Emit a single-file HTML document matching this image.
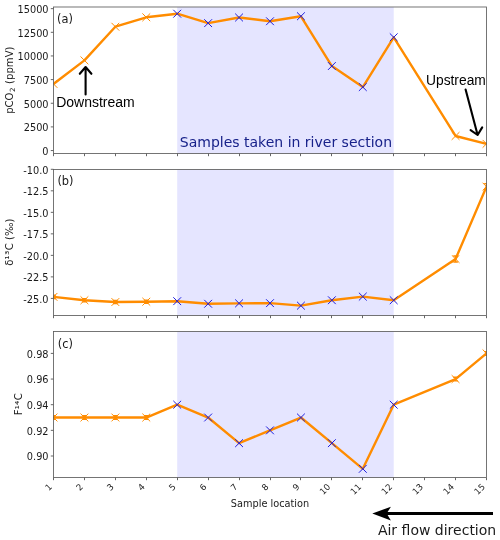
<!DOCTYPE html>
<html><head><meta charset="utf-8"><title>Figure</title>
<style>html,body{margin:0;padding:0;background:#fff}svg{display:block}</style></head>
<body>
<svg width="500" height="540" viewBox="0 0 500 540" font-family="'DejaVu Sans', 'Liberation Sans', sans-serif" font-size="9.75" fill="#1a1a1a">
<rect width="500" height="540" fill="#fff"/>
<defs><clipPath id="c0"><rect x="53.5" y="7.0" width="433.5" height="146.5"/></clipPath><clipPath id="c1"><rect x="53.5" y="169.5" width="433.5" height="146.0"/></clipPath><clipPath id="c2"><rect x="53.5" y="331.5" width="433.5" height="146.0"/></clipPath></defs>
<rect x="177.21" y="7.0" width="216.50" height="146.5" fill="#e5e5ff"/>
<g clip-path="url(#c0)"><polyline points="53.50,83.94 84.43,60.38 115.36,26.72 146.29,17.30 177.21,13.71 208.14,23.14 239.07,17.48 270.00,21.25 300.93,16.26 331.86,66.03 362.79,87.05 393.71,37.28 455.57,135.98 486.50,143.80" fill="none" stroke="#ff8c00" stroke-width="2.4" stroke-linejoin="round"/><path d="M49.60,80.04L57.40,87.84M49.60,87.84L57.40,80.04" stroke="#ff8c00" stroke-width="1" fill="none"/><path d="M80.53,56.48L88.33,64.28M80.53,64.28L88.33,56.48" stroke="#ff8c00" stroke-width="1" fill="none"/><path d="M111.46,22.82L119.26,30.62M111.46,30.62L119.26,22.82" stroke="#ff8c00" stroke-width="1" fill="none"/><path d="M142.39,13.40L150.19,21.20M142.39,21.20L150.19,13.40" stroke="#ff8c00" stroke-width="1" fill="none"/><path d="M173.31,9.81L181.11,17.61M173.31,17.61L181.11,9.81" stroke="#1c1ce0" stroke-width="1" fill="none"/><path d="M204.24,19.24L212.04,27.04M204.24,27.04L212.04,19.24" stroke="#1c1ce0" stroke-width="1" fill="none"/><path d="M235.17,13.58L242.97,21.38M235.17,21.38L242.97,13.58" stroke="#1c1ce0" stroke-width="1" fill="none"/><path d="M266.10,17.35L273.90,25.15M266.10,25.15L273.90,17.35" stroke="#1c1ce0" stroke-width="1" fill="none"/><path d="M297.03,12.36L304.83,20.16M297.03,20.16L304.83,12.36" stroke="#1c1ce0" stroke-width="1" fill="none"/><path d="M327.96,62.13L335.76,69.93M327.96,69.93L335.76,62.13" stroke="#1c1ce0" stroke-width="1" fill="none"/><path d="M358.89,83.15L366.69,90.95M358.89,90.95L366.69,83.15" stroke="#1c1ce0" stroke-width="1" fill="none"/><path d="M389.81,33.38L397.61,41.18M389.81,41.18L397.61,33.38" stroke="#1c1ce0" stroke-width="1" fill="none"/><path d="M451.67,132.08L459.47,139.88M451.67,139.88L459.47,132.08" stroke="#ff8c00" stroke-width="1" fill="none"/><path d="M482.60,139.90L490.40,147.70M482.60,147.70L490.40,139.90" stroke="#ff8c00" stroke-width="1" fill="none"/></g>
<path d="M53.50,153.5v2.7M84.50,153.5v2.7M115.50,153.5v2.7M146.50,153.5v2.7M177.50,153.5v2.7M208.50,153.5v2.7M239.50,153.5v2.7M270.50,153.5v2.7M300.50,153.5v2.7M331.50,153.5v2.7M362.50,153.5v2.7M393.50,153.5v2.7M424.50,153.5v2.7M455.50,153.5v2.7M486.50,153.5v2.7M53.5,150.55h-2.7M53.5,126.90h-2.7M53.5,103.25h-2.7M53.5,79.60h-2.7M53.5,55.95h-2.7M53.5,32.30h-2.7M53.5,8.65h-2.7" stroke="#555555" stroke-width="0.9" fill="none"/>
<rect x="53.5" y="7.0" width="433.0" height="146.5" fill="none" stroke="#5c5c5c" stroke-width="0.85"/>
<text x="48.55" y="154.95" text-anchor="end">0</text>
<text x="48.55" y="131.30" text-anchor="end">2500</text>
<text x="48.55" y="107.65" text-anchor="end">5000</text>
<text x="48.55" y="84.00" text-anchor="end">7500</text>
<text x="48.55" y="60.35" text-anchor="end">10000</text>
<text x="48.55" y="36.70" text-anchor="end">12500</text>
<text x="48.55" y="13.05" text-anchor="end">15000</text>
<rect x="177.21" y="169.5" width="216.50" height="146.0" fill="#e5e5ff"/>
<g clip-path="url(#c1)"><polyline points="53.50,296.87 84.43,300.23 115.36,302.04 146.29,301.70 177.21,301.18 208.14,303.76 239.07,303.33 270.00,303.16 300.93,305.66 331.86,300.23 362.79,296.61 393.71,300.23 455.57,258.98 486.50,186.63" fill="none" stroke="#ff8c00" stroke-width="2.4" stroke-linejoin="round"/><path d="M53.50,295.27V298.47M51.20,295.27h4.6M51.20,298.47h4.6" stroke="#ff8c00" stroke-width="1.4" fill="none"/><path d="M49.60,292.97L57.40,300.77M49.60,300.77L57.40,292.97" stroke="#ff8c00" stroke-width="1" fill="none"/><path d="M84.43,298.63V301.83M82.13,298.63h4.6M82.13,301.83h4.6" stroke="#ff8c00" stroke-width="1.4" fill="none"/><path d="M80.53,296.33L88.33,304.13M80.53,304.13L88.33,296.33" stroke="#ff8c00" stroke-width="1" fill="none"/><path d="M115.36,300.44V303.64M113.06,300.44h4.6M113.06,303.64h4.6" stroke="#ff8c00" stroke-width="1.4" fill="none"/><path d="M111.46,298.14L119.26,305.94M111.46,305.94L119.26,298.14" stroke="#ff8c00" stroke-width="1" fill="none"/><path d="M146.29,300.10V303.30M143.99,300.10h4.6M143.99,303.30h4.6" stroke="#ff8c00" stroke-width="1.4" fill="none"/><path d="M142.39,297.80L150.19,305.60M142.39,305.60L150.19,297.80" stroke="#ff8c00" stroke-width="1" fill="none"/><path d="M173.31,297.28L181.11,305.08M173.31,305.08L181.11,297.28" stroke="#1c1ce0" stroke-width="1" fill="none"/><path d="M204.24,299.86L212.04,307.66M204.24,307.66L212.04,299.86" stroke="#1c1ce0" stroke-width="1" fill="none"/><path d="M235.17,299.43L242.97,307.23M235.17,307.23L242.97,299.43" stroke="#1c1ce0" stroke-width="1" fill="none"/><path d="M266.10,299.26L273.90,307.06M266.10,307.06L273.90,299.26" stroke="#1c1ce0" stroke-width="1" fill="none"/><path d="M297.03,301.76L304.83,309.56M297.03,309.56L304.83,301.76" stroke="#1c1ce0" stroke-width="1" fill="none"/><path d="M327.96,296.33L335.76,304.13M327.96,304.13L335.76,296.33" stroke="#1c1ce0" stroke-width="1" fill="none"/><path d="M358.89,292.71L366.69,300.51M358.89,300.51L366.69,292.71" stroke="#1c1ce0" stroke-width="1" fill="none"/><path d="M389.81,296.33L397.61,304.13M389.81,304.13L397.61,296.33" stroke="#1c1ce0" stroke-width="1" fill="none"/><path d="M455.57,255.98V261.98M453.27,255.98h4.6M453.27,261.98h4.6" stroke="#ff8c00" stroke-width="1.4" fill="none"/><path d="M451.67,255.08L459.47,262.88M451.67,262.88L459.47,255.08" stroke="#ff8c00" stroke-width="1" fill="none"/><path d="M486.50,183.63V189.63M484.20,183.63h4.6M484.20,189.63h4.6" stroke="#ff8c00" stroke-width="1.4" fill="none"/><path d="M482.60,182.73L490.40,190.53M482.60,190.53L490.40,182.73" stroke="#ff8c00" stroke-width="1" fill="none"/></g>
<path d="M53.50,315.5v2.7M84.50,315.5v2.7M115.50,315.5v2.7M146.50,315.5v2.7M177.50,315.5v2.7M208.50,315.5v2.7M239.50,315.5v2.7M270.50,315.5v2.7M300.50,315.5v2.7M331.50,315.5v2.7M362.50,315.5v2.7M393.50,315.5v2.7M424.50,315.5v2.7M455.50,315.5v2.7M486.50,315.5v2.7M53.5,169.30h-2.7M53.5,190.82h-2.7M53.5,212.34h-2.7M53.5,233.85h-2.7M53.5,255.37h-2.7M53.5,276.89h-2.7M53.5,298.40h-2.7" stroke="#555555" stroke-width="0.9" fill="none"/>
<rect x="53.5" y="169.5" width="433.0" height="146.0" fill="none" stroke="#5c5c5c" stroke-width="0.85"/>
<text x="48.55" y="173.70" text-anchor="end">-10.0</text>
<text x="48.55" y="195.22" text-anchor="end">-12.5</text>
<text x="48.55" y="216.74" text-anchor="end">-15.0</text>
<text x="48.55" y="238.25" text-anchor="end">-17.5</text>
<text x="48.55" y="259.77" text-anchor="end">-20.0</text>
<text x="48.55" y="281.29" text-anchor="end">-22.5</text>
<text x="48.55" y="302.80" text-anchor="end">-25.0</text>
<rect x="177.21" y="331.5" width="216.50" height="146.0" fill="#e5e5ff"/>
<g clip-path="url(#c2)"><polyline points="53.50,417.52 84.43,417.52 115.36,417.52 146.29,417.52 177.21,404.70 208.14,417.52 239.07,443.17 270.00,430.35 300.93,417.52 331.86,443.17 362.79,468.82 393.71,404.70 455.57,379.05 486.50,353.40" fill="none" stroke="#ff8c00" stroke-width="2.4" stroke-linejoin="round"/><path d="M53.50,415.72V419.32M51.20,415.72h4.6M51.20,419.32h4.6" stroke="#ff8c00" stroke-width="1.4" fill="none"/><path d="M49.60,413.62L57.40,421.42M49.60,421.42L57.40,413.62" stroke="#ff8c00" stroke-width="1" fill="none"/><path d="M84.43,415.72V419.32M82.13,415.72h4.6M82.13,419.32h4.6" stroke="#ff8c00" stroke-width="1.4" fill="none"/><path d="M80.53,413.62L88.33,421.42M80.53,421.42L88.33,413.62" stroke="#ff8c00" stroke-width="1" fill="none"/><path d="M115.36,415.72V419.32M113.06,415.72h4.6M113.06,419.32h4.6" stroke="#ff8c00" stroke-width="1.4" fill="none"/><path d="M111.46,413.62L119.26,421.42M111.46,421.42L119.26,413.62" stroke="#ff8c00" stroke-width="1" fill="none"/><path d="M146.29,415.72V419.32M143.99,415.72h4.6M143.99,419.32h4.6" stroke="#ff8c00" stroke-width="1.4" fill="none"/><path d="M142.39,413.62L150.19,421.42M142.39,421.42L150.19,413.62" stroke="#ff8c00" stroke-width="1" fill="none"/><path d="M173.31,400.80L181.11,408.60M173.31,408.60L181.11,400.80" stroke="#1c1ce0" stroke-width="1" fill="none"/><path d="M204.24,413.62L212.04,421.42M204.24,421.42L212.04,413.62" stroke="#1c1ce0" stroke-width="1" fill="none"/><path d="M235.17,439.27L242.97,447.07M235.17,447.07L242.97,439.27" stroke="#1c1ce0" stroke-width="1" fill="none"/><path d="M266.10,426.45L273.90,434.25M266.10,434.25L273.90,426.45" stroke="#1c1ce0" stroke-width="1" fill="none"/><path d="M297.03,413.62L304.83,421.42M297.03,421.42L304.83,413.62" stroke="#1c1ce0" stroke-width="1" fill="none"/><path d="M327.96,439.27L335.76,447.07M327.96,447.07L335.76,439.27" stroke="#1c1ce0" stroke-width="1" fill="none"/><path d="M358.89,464.92L366.69,472.72M358.89,472.72L366.69,464.92" stroke="#1c1ce0" stroke-width="1" fill="none"/><path d="M389.81,400.80L397.61,408.60M389.81,408.60L397.61,400.80" stroke="#1c1ce0" stroke-width="1" fill="none"/><path d="M455.57,377.25V380.85M453.27,377.25h4.6M453.27,380.85h4.6" stroke="#ff8c00" stroke-width="1.4" fill="none"/><path d="M451.67,375.15L459.47,382.95M451.67,382.95L459.47,375.15" stroke="#ff8c00" stroke-width="1" fill="none"/><path d="M486.50,351.60V355.20M484.20,351.60h4.6M484.20,355.20h4.6" stroke="#ff8c00" stroke-width="1.4" fill="none"/><path d="M482.60,349.50L490.40,357.30M482.60,357.30L490.40,349.50" stroke="#ff8c00" stroke-width="1" fill="none"/></g>
<path d="M53.50,477.5v2.7M84.50,477.5v2.7M115.50,477.5v2.7M146.50,477.5v2.7M177.50,477.5v2.7M208.50,477.5v2.7M239.50,477.5v2.7M270.50,477.5v2.7M300.50,477.5v2.7M331.50,477.5v2.7M362.50,477.5v2.7M393.50,477.5v2.7M424.50,477.5v2.7M455.50,477.5v2.7M486.50,477.5v2.7M53.5,456.00h-2.7M53.5,430.35h-2.7M53.5,404.70h-2.7M53.5,379.05h-2.7M53.5,353.40h-2.7" stroke="#555555" stroke-width="0.9" fill="none"/>
<rect x="53.5" y="331.5" width="433.0" height="146.0" fill="none" stroke="#5c5c5c" stroke-width="0.85"/>
<text x="48.55" y="460.40" text-anchor="end">0.90</text>
<text x="48.55" y="434.75" text-anchor="end">0.92</text>
<text x="48.55" y="409.10" text-anchor="end">0.94</text>
<text x="48.55" y="383.45" text-anchor="end">0.96</text>
<text x="48.55" y="357.80" text-anchor="end">0.98</text>
<text x="57.0" y="23.00" font-size="11.4">(a)</text>
<text x="57.4" y="185.20" font-size="11.4">(b)</text>
<text x="57.7" y="347.50" font-size="11.4">(c)</text>
<text transform="translate(48.50,483.2) rotate(-45)" text-anchor="end" y="5.8" font-size="8.7">1</text>
<text transform="translate(79.43,483.2) rotate(-45)" text-anchor="end" y="5.8" font-size="8.7">2</text>
<text transform="translate(110.36,483.2) rotate(-45)" text-anchor="end" y="5.8" font-size="8.7">3</text>
<text transform="translate(141.29,483.2) rotate(-45)" text-anchor="end" y="5.8" font-size="8.7">4</text>
<text transform="translate(172.21,483.2) rotate(-45)" text-anchor="end" y="5.8" font-size="8.7">5</text>
<text transform="translate(203.14,483.2) rotate(-45)" text-anchor="end" y="5.8" font-size="8.7">6</text>
<text transform="translate(234.07,483.2) rotate(-45)" text-anchor="end" y="5.8" font-size="8.7">7</text>
<text transform="translate(265.00,483.2) rotate(-45)" text-anchor="end" y="5.8" font-size="8.7">8</text>
<text transform="translate(295.93,483.2) rotate(-45)" text-anchor="end" y="5.8" font-size="8.7">9</text>
<text transform="translate(326.86,483.2) rotate(-45)" text-anchor="end" y="5.8" font-size="8.7">10</text>
<text transform="translate(357.79,483.2) rotate(-45)" text-anchor="end" y="5.8" font-size="8.7">11</text>
<text transform="translate(388.71,483.2) rotate(-45)" text-anchor="end" y="5.8" font-size="8.7">12</text>
<text transform="translate(419.64,483.2) rotate(-45)" text-anchor="end" y="5.8" font-size="8.7">13</text>
<text transform="translate(450.57,483.2) rotate(-45)" text-anchor="end" y="5.8" font-size="8.7">14</text>
<text transform="translate(481.50,483.2) rotate(-45)" text-anchor="end" y="5.8" font-size="8.7">15</text>
<text x="270" y="507.3" text-anchor="middle">Sample location</text>
<text transform="translate(12.6,80.2) rotate(-90)" text-anchor="middle" font-size="10.1">pCO<tspan font-size="7.1" dy="2" dx="0.4">2</tspan><tspan dy="-2" dx="0.4"> (ppmV)</tspan></text>
<text transform="translate(12.5,242.2) rotate(-90)" text-anchor="middle" font-size="10.1">δ<tspan font-size="10.9" letter-spacing="0.35" dy="0.5">¹³</tspan><tspan dy="-0.5">C (‰)</tspan></text>
<text transform="translate(22.3,404.3) rotate(-90)" text-anchor="middle" font-size="10">F<tspan font-size="10.8" letter-spacing="0.35" dy="0.5">¹⁴</tspan><tspan dy="-0.5">C</tspan></text>
<text x="179.8" y="146.9" font-size="14" fill="#18228a">Samples taken in river section</text>
<text x="377.9" y="534.8" font-size="14">Air flow direction</text>
<text x="56.2" y="107.3" font-size="14" font-family="'Liberation Sans', sans-serif" fill="#000">Downstream</text>
<text x="426" y="85" font-size="13.8" font-family="'Liberation Sans', sans-serif" fill="#000">Upstream</text>
<path d="M85.6,94.4V67.2M79.8,73.8L85.6,67L91.4,73.8" stroke="#000" stroke-width="2.1" fill="none" stroke-linecap="round" stroke-linejoin="round"/>
<path d="M465.6,89.6L477.5,134.6M470.6,130.2L477.6,135L482.2,127.4" stroke="#000" stroke-width="2.1" fill="none" stroke-linecap="round" stroke-linejoin="round"/>
<path d="M372.3,513.5L390.9,506.7L387.6,512.1H493V514.9H387.6L390.9,520.5Z" fill="#000"/>
</svg>
</body></html>
